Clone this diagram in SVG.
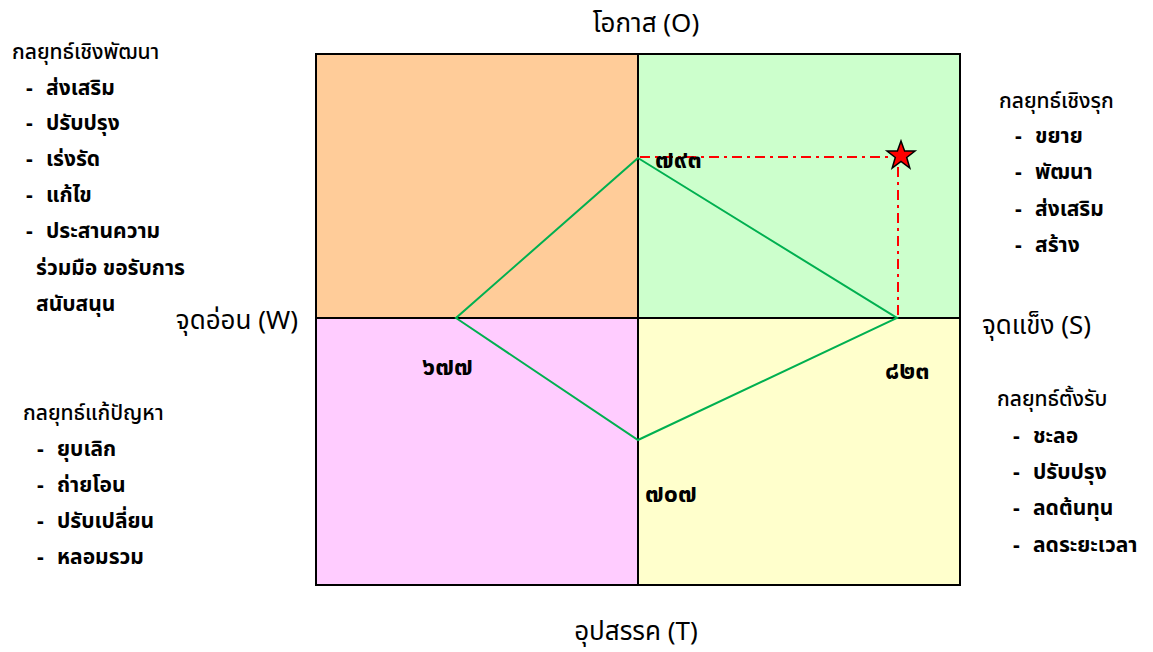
<svg xmlns="http://www.w3.org/2000/svg" width="1153" height="652" viewBox="0 0 1153 652">
  <defs>
    <style>
      text { font-family: "Noto Sans Thai", "Leelawadee UI", Tahoma, "Noto Sans", "DejaVu Sans", sans-serif; fill: #000; }
      .h { font-size: 21px; font-weight: 500; }
      .li { font-size: 21px; font-weight: bold; }
      .ax { font-size: 26px; }
      .num { font-size: 25px; font-weight: bold; }
      .frame { stroke: #000; stroke-width: 2; }
      .diamond { fill: none; stroke: #00B050; stroke-width: 2; }
      .guide { fill: none; stroke: #FF0000; stroke-width: 2; stroke-dasharray: 10 5 3 5; }
    </style>
  </defs>

  <!-- quadrants -->
  <g id="quadrants">
    <rect x="316" y="54" width="322" height="264" fill="#FFCC99"/>
    <rect x="638" y="54" width="322" height="264" fill="#CCFFCC"/>
    <rect x="316" y="318" width="322" height="267" fill="#FFCCFF"/>
    <rect x="638" y="318" width="322" height="267" fill="#FFFFCC"/>
    <rect x="316" y="54" width="644" height="531" fill="none" class="frame"/>
    <line x1="638" y1="54" x2="638" y2="585" class="frame"/>
    <line x1="316" y1="318" x2="960" y2="318" class="frame"/>
  </g>

  <!-- axis labels -->
  <g id="axis-labels">
    <text x="646" y="32" class="ax" text-anchor="middle">โอกาส (O)</text>
    <text x="636" y="640" class="ax" text-anchor="middle">อุปสรรค (T)</text>
    <text x="298" y="329" class="ax" text-anchor="end">จุดอ่อน (W)</text>
    <text x="982" y="334" class="ax">จุดแข็ง (S)</text>
  </g>

  <!-- score polygon and position guides -->
  <g id="connectors">
    <polygon points="638,158 897,318 638,440 456,318" class="diamond"/>
    <polyline points="640,157 890,157" class="guide"/>
    <polyline points="898,167 898,318" class="guide"/>
  </g>

  <g id="marker-star">
    <polygon points="901,141 904.6,151 915,151 906.7,157.5 909.8,168 901,161.5 892.2,168 895.3,157.5 887,151 897.4,151" fill="#FF0000" stroke="#000" stroke-width="1.5" stroke-linejoin="miter"/>
  </g>

  <!-- scores -->
  <g id="scores">
    <text x="655" y="168" class="num">๗๙๓</text>
    <text x="422" y="375" class="num">๖๗๗</text>
    <text x="885" y="379" class="num">๘๒๓</text>
    <text x="645" y="502" class="num">๗๐๗</text>
  </g>

  <!-- strategy lists -->
  <g id="strategy-wo">
    <text x="12" y="59" class="h">กลยุทธ์เชิงพัฒนา</text>
    <text x="26" y="95" class="li">-</text><text x="46" y="95" class="li">ส่งเสริม</text>
    <text x="26" y="130" class="li">-</text><text x="46" y="130" class="li">ปรับปรุง</text>
    <text x="26" y="166" class="li">-</text><text x="46" y="166" class="li">เร่งรัด</text>
    <text x="26" y="202" class="li">-</text><text x="46" y="202" class="li">แก้ไข</text>
    <text x="26" y="238" class="li">-</text><text x="46" y="238" class="li">ประสานความ</text>
    <text x="36" y="275" class="li">ร่วมมือ ขอรับการ</text>
    <text x="36" y="311" class="li">สนับสนุน</text>
  </g>

  <g id="strategy-so">
    <text x="999" y="108" class="h">กลยุทธ์เชิงรุก</text>
    <text x="1015" y="143" class="li">-</text><text x="1035" y="143" class="li">ขยาย</text>
    <text x="1015" y="179" class="li">-</text><text x="1035" y="179" class="li">พัฒนา</text>
    <text x="1015" y="216" class="li">-</text><text x="1035" y="216" class="li">ส่งเสริม</text>
    <text x="1015" y="252" class="li">-</text><text x="1035" y="252" class="li">สร้าง</text>
  </g>

  <g id="strategy-st">
    <text x="997" y="406" class="h">กลยุทธ์ตั้งรับ</text>
    <text x="1013" y="443" class="li">-</text><text x="1033" y="443" class="li">ชะลอ</text>
    <text x="1013" y="479" class="li">-</text><text x="1033" y="479" class="li">ปรับปรุง</text>
    <text x="1013" y="515" class="li">-</text><text x="1033" y="515" class="li">ลดต้นทุน</text>
    <text x="1013" y="552" class="li">-</text><text x="1033" y="552" class="li">ลดระยะเวลา</text>
  </g>

  <g id="strategy-wt">
    <text x="23" y="420" class="h">กลยุทธ์แก้ปัญหา</text>
    <text x="37" y="456" class="li">-</text><text x="57" y="456" class="li">ยุบเลิก</text>
    <text x="37" y="492" class="li">-</text><text x="57" y="492" class="li">ถ่ายโอน</text>
    <text x="37" y="528" class="li">-</text><text x="57" y="528" class="li">ปรับเปลี่ยน</text>
    <text x="37" y="564" class="li">-</text><text x="57" y="564" class="li">หลอมรวม</text>
  </g>
</svg>
